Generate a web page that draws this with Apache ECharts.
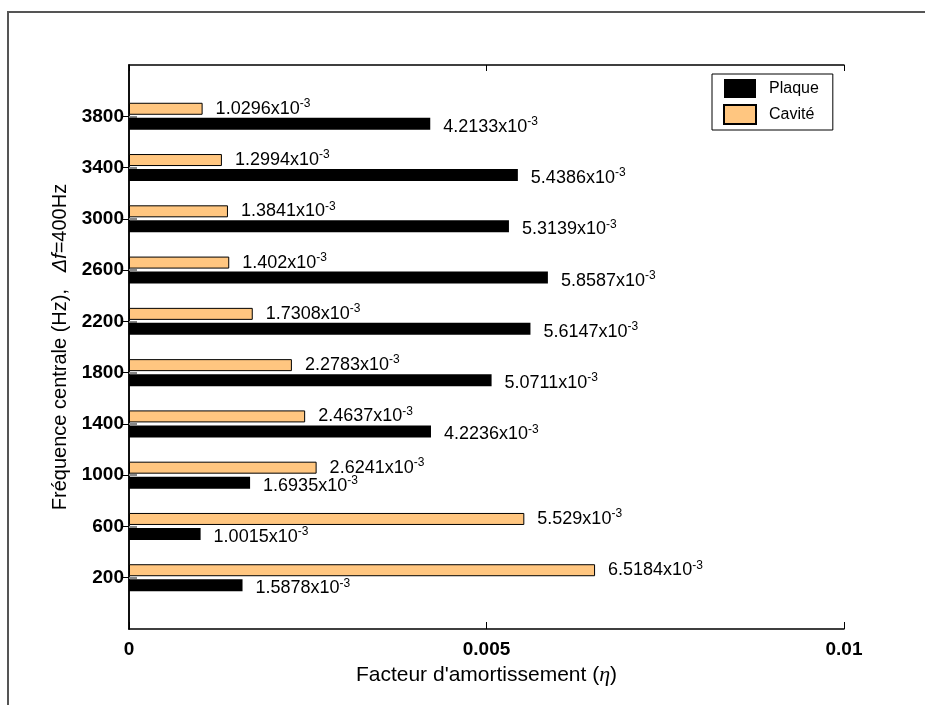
<!DOCTYPE html>
<html><head><meta charset="utf-8">
<script src="https://cdn.jsdelivr.net/npm/echarts@6/dist/echarts.min.js"></script>
<style>html,body{margin:0;padding:0;background:#fff}#c{width:925px;height:705px}</style>
</head><body><div id="c"></div>
<script>
const categories = ['200','600','1000','1400','1800','2200','2600','3000','3400','3800'];
const plaque = [1.5878e-3, 1.0015e-3, 1.6935e-3, 4.2236e-3, 5.0711e-3, 5.6147e-3, 5.8587e-3, 5.3139e-3, 5.4386e-3, 4.2133e-3];
const cavite = [6.5184e-3, 5.529e-3, 2.6241e-3, 2.4637e-3, 2.2783e-3, 1.7308e-3, 1.402e-3, 1.3841e-3, 1.2994e-3, 1.0296e-3];
const seriesNames = ['Plaque', 'Cavité'];
const xMin = 0, xMax = 0.01, xInterval = 0.005;

const FONT = 'Liberation Sans, Arial, sans-serif';
const yCats = [''].concat(categories, ['']);
const pad = arr => ['-'].concat(arr, ['-']);
const mant = v => parseFloat((v * 1000).toFixed(4)).toString();
const labelRich = {
  m: { fontSize: 18, fontFamily: FONT, color: '#000' },
  s: { fontSize: 12, fontFamily: FONT, color: '#000', padding: [0, 0, 10, 0] }
};
const fmtLabel = p => '{m|' + mant(p.value) + 'x10}{s|-3}';
const realIdx = (i) => i > 0 && i < yCats.length - 1;

const chart = echarts.init(document.getElementById('c'));
chart.setOption({
  animation: false,
  backgroundColor: '#fff',
  grid: { left: 129, right: 81, top: 65, bottom: 76, containLabel: false, outerBoundsMode: 'none' },
  legend: {
    data: seriesNames,
    orient: 'vertical',
    left: 712, top: 74,
    itemWidth: 32, itemHeight: 19, itemGap: 6,
    padding: [5, 14, 5, 11],
    borderColor: '#000', borderWidth: 1, borderRadius: 0,
    backgroundColor: '#fff',
    icon: 'rect',
    textStyle: { fontSize: 16, fontFamily: FONT, color: '#000', padding: [0, 0, 0, 8] }
  },
  xAxis: [{
    type: 'value', position: 'bottom', min: xMin, max: xMax, interval: xInterval,
    axisLine: { show: true, lineStyle: { color: '#000', width: 1.5 } },
    axisTick: { show: true, inside: true, length: 7, lineStyle: { color: '#000' } },
    axisLabel: { fontSize: 19, fontWeight: 'bold', fontFamily: FONT, color: '#000', margin: 11 },
    splitLine: { show: false },
    name: '{n|Facteur d\'amortissement (}{i|η}{n|)}',
    nameLocation: 'middle', nameGap: 30,
    nameTextStyle: { rich: {
      n: { fontSize: 21, fontFamily: FONT, color: '#000' },
      i: { fontSize: 22, fontFamily: 'Liberation Serif, serif', fontStyle: 'italic', color: '#000' }
    } }
  }, {
    type: 'value', position: 'top', min: xMin, max: xMax, interval: xInterval,
    axisLine: { show: true, lineStyle: { color: '#000', width: 1.5 } },
    axisTick: { show: true, inside: true, length: 6, lineStyle: { color: '#000' } },
    axisLabel: { show: false },
    splitLine: { show: false }
  }],
  yAxis: [{
    type: 'category', position: 'left', data: yCats, boundaryGap: false,
    axisLine: { show: true, lineStyle: { color: '#000', width: 1.5 } },
    axisTick: { show: true, inside: true, length: 8, interval: realIdx, lineStyle: { color: '#888', width: 2 } },
    axisLabel: { fontSize: 19, fontWeight: 'bold', fontFamily: FONT, color: '#000', margin: 5, interval: 0 },
    splitLine: { show: false },
    name: '{n|Fréquence centrale (Hz),   }{i|Δf}{n|=400Hz}',
    nameLocation: 'middle', nameGap: 54,
    nameTextStyle: { rich: {
      n: { fontSize: 20, fontFamily: FONT, color: '#000' },
      i: { fontSize: 20, fontFamily: FONT, fontStyle: 'italic', color: '#000' }
    } }
  }, {
    type: 'category', position: 'right', data: yCats, boundaryGap: false,
    axisLine: { show: true, lineStyle: { color: '#000', width: 1.5 } },
    axisTick: { show: true, inside: true, length: 6, interval: realIdx, lineStyle: { color: '#000' } },
    axisLabel: { show: false },
    splitLine: { show: false }
  }],
  series: [{
    name: seriesNames[1], type: 'bar', xAxisIndex: 0, yAxisIndex: 0,
    data: pad(cavite), barWidth: 12, barGap: '25%',
    itemStyle: { color: '#FFC680', borderColor: '#000', borderWidth: 1 },
    label: { show: true, position: 'right', distance: 13, offset: [0, 0], formatter: fmtLabel, rich: labelRich }
  }, {
    name: seriesNames[0], type: 'bar', xAxisIndex: 0, yAxisIndex: 0,
    data: pad(plaque), barWidth: 12, barGap: '25%',
    itemStyle: { color: '#000' },
    label: { show: true, position: 'right', distance: 13, offset: [0, 3], formatter: fmtLabel, rich: labelRich }
  }],
  graphic: [{
    type: 'rect', silent: true, z: 100,
    shape: { x: 8, y: 12, width: 1000, height: 1000 },
    style: { fill: 'none', stroke: '#555', lineWidth: 2 }
  }]
});
</script>
</body></html>
